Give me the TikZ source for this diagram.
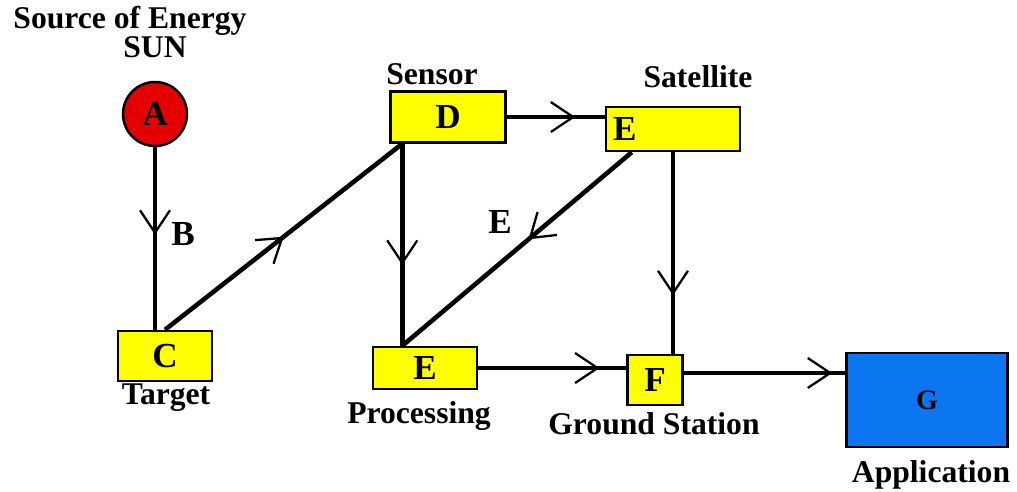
\documentclass[tikz,border=0pt]{standalone}
\usepackage{fontspec}
\setmainfont{Liberation Serif}
\usetikzlibrary{arrows.meta, positioning, decorations.markings}

\definecolor{boxyellow}{RGB}{255,255,0}
\definecolor{sunred}{RGB}{228,0,0}
\definecolor{appblue}{RGB}{12,118,240}

\begin{document}
\begin{tikzpicture}[
    x=0.2mm, y=-0.2mm,
    line width=2.6pt,
    box/.style={rectangle, draw, line width=1.4pt, fill=boxyellow, inner sep=0pt,
        font=\fontsize{20}{24}\selectfont\bfseries},
    caption/.style={font=\fontsize{18}{21}\selectfont\bfseries, inner sep=0pt, anchor=base},
    midarrow/.style={postaction={decorate}, decoration={markings,
        mark=at position #1 with {\arrow[line width=1.3pt]{Straight Barb[length=4.5mm,width=6mm]}}}}
    ]
    \useasboundingbox (0,0) rectangle (1017,491);

    % Nodes
    \node[circle, draw, fill=sunred, line width=1.4pt, minimum size=1.28cm, inner sep=0pt,
        font=\fontsize{20}{24}\selectfont\bfseries] (A) at (155,114) {A};
    \node[box, minimum width=1.88cm, minimum height=1cm] (C) at (165,356) {C};
    \node[box, minimum width=2.3cm, minimum height=1.02cm] (D) at (448,117) {D};
    \node[box, minimum width=2.68cm, minimum height=0.88cm, inner xsep=4pt,
        text width=2.68cm-8pt, align=left] (sat) at (673,129) {E};
    \node[box, minimum width=2.08cm, minimum height=0.84cm] (proc) at (425,368) {E};
    \node[box, minimum width=1.1cm, minimum height=1cm] (F) at (655,380) {F};
    \node[box, fill=appblue, minimum width=3.22cm, minimum height=1.88cm,
        font=\fontsize{16}{20}\selectfont\bfseries] (G) at (927,400) {G};

    % Captions
    \node[caption] (src) at (130,28) {Source of Energy};
    \node[caption] (sun) at (155,57) {SUN};
    \node[caption] (target) at (166,404) {Target};
    \node[caption] (sensor) at (432,84) {Sensor};
    \node[caption] (satlbl) at (698,87) {Satellite};
    \node[caption] (proclbl) at (419,423) {Processing};
    \node[caption] (ground) at (654,434) {Ground Station};
    \node[caption] (app) at (931,482) {Application};

    % Letters on the lines
    \node[caption, font=\fontsize{20}{24}\selectfont\bfseries] (B) at (183,245) {B};
    \node[caption, font=\fontsize{20}{24}\selectfont\bfseries] (Emid) at (500,233) {E};

    \coordinate (pin) at ([xshift=2.6mm]D.south west);

    % Connectors
    \draw[midarrow=0.48] (A.south) -- (A.south |- C.north);
    \draw[midarrow=0.5] (C.north) -- (pin);
    \draw[midarrow=0.7] (D.east) -- (D.east -| sat.west);
    \draw[midarrow=0.6] (pin) -- (pin |- proc.north);
    \draw[midarrow=0.45] ([xshift=5.4mm]sat.south west) -- (pin |- proc.north);
    \draw[midarrow=0.71] (sat.south) -- (sat.south |- F.north);
    \draw[midarrow=0.82] (proc.east) -- (proc.east -| F.west);
    \draw[midarrow=0.92] ([yshift=1.4mm]F.east) -- ([yshift=1.4mm]F.east -| G.west);
\end{tikzpicture}
\end{document}
